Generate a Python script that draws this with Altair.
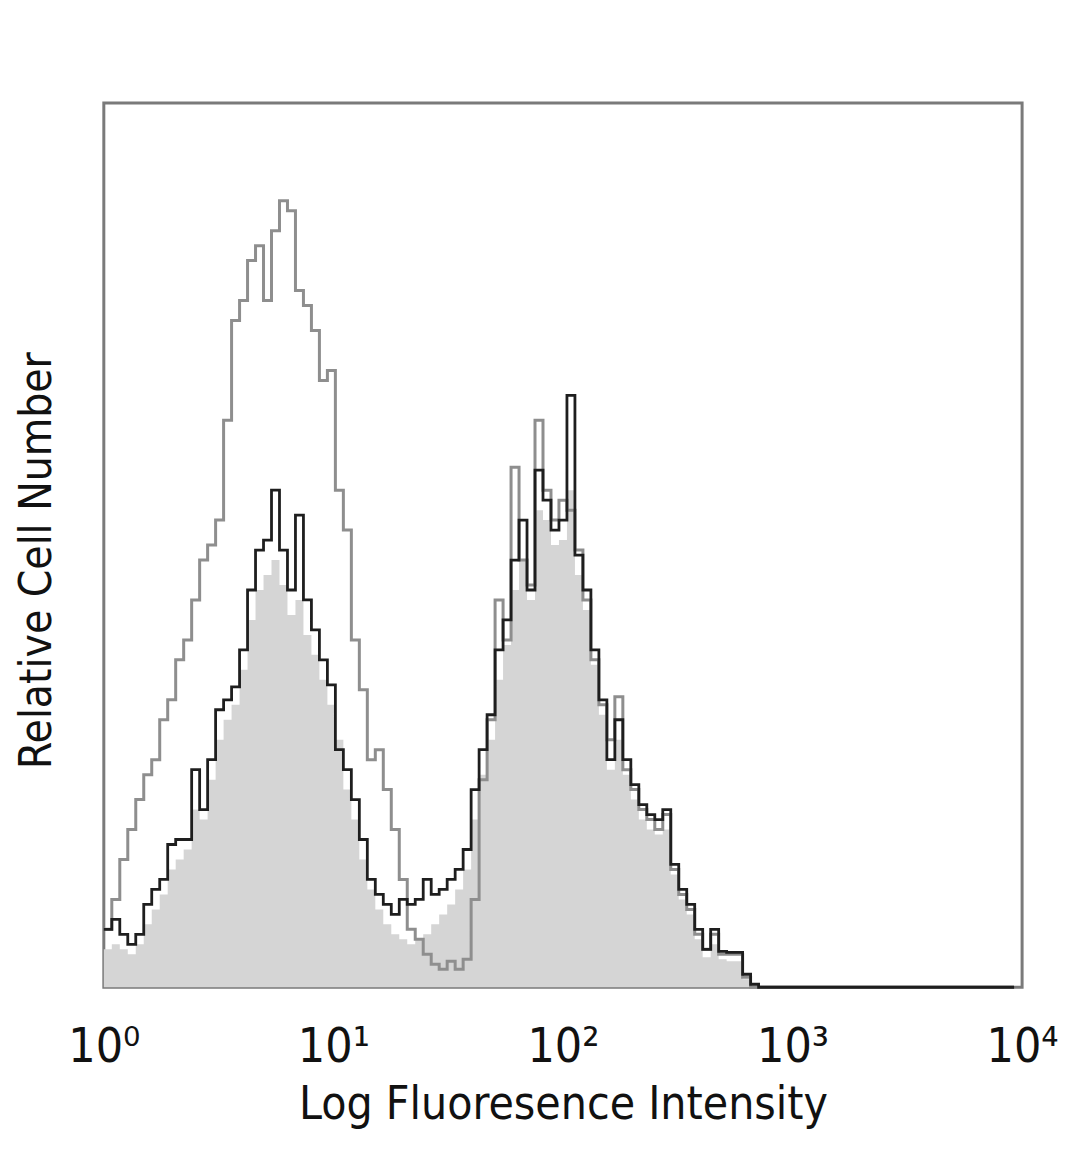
import altair as alt
import numpy as np
import pandas as pd

# Histogram bins: log10 width of each channel (8/230 decade), first bin starts at 10^0
n_bins = 115
bin_log_width = 8 / 230
log_edges = np.arange(n_bins) * bin_log_width
x_edges = 10 ** log_edges

# Relative cell number per bin
black_line = [58, 68, 53, 43, 53, 83, 98, 108, 143, 148, 148, 218, 178, 228, 278, 288, 301, 338,
              398, 438, 448, 498, 438, 398, 473, 388, 358, 328, 303, 238, 218, 188, 148, 108, 93,
              83, 73, 88, 83, 88, 108, 93, 98, 108, 118, 138, 198, 238, 273, 338, 368, 428, 468,
              398, 518, 488, 458, 468, 593, 433, 398, 338, 288, 228, 268, 228, 203, 183, 173, 168,
              178, 123, 98, 83, 58, 38, 58, 36, 35, 35, 13, 3]
gray_line = [58, 88, 128, 158, 188, 213, 228, 268, 288, 328, 348, 388, 428, 443, 468, 568, 668,
             688, 728, 743, 688, 758, 788, 778, 698, 683, 658, 608, 618, 498, 458, 348, 298, 228,
             238, 198, 158, 108, 58, 48, 33, 23, 18, 26, 18, 28, 88, 208, 268, 388, 348, 521, 428,
             403, 568, 498, 468, 488, 478, 438, 388, 328, 283, 248, 291, 218, 198, 178, 168, 158,
             173, 118, 93, 78, 53, 38, 53, 33, 33, 33, 10, 0]
filled = [38, 43, 38, 33, 43, 63, 78, 93, 118, 128, 138, 178, 168, 208, 248, 268, 283, 318, 368,
          398, 413, 428, 403, 373, 388, 353, 333, 308, 283, 248, 198, 168, 128, 98, 78, 63, 53,
          48, 43, 48, 53, 63, 73, 83, 98, 118, 168, 213, 248, 308, 343, 398, 428, 388, 478, 468,
          443, 448, 498, 413, 378, 323, 273, 218, 248, 213, 188, 168, 158, 153, 158, 113, 88, 73,
          48, 30, 43, 28, 26, 26, 8, 0]

tick_values = [1, 10, 100, 1000, 10000]
tick_labels = ["10⁰", "10¹", "10²", "10³", "10⁴"]


def pad(vals):
    return list(vals) + [0] * (n_bins - len(vals))


df = pd.DataFrame({
    "x": x_edges,
    "black": pad(black_line),
    "gray": pad(gray_line),
    "fill": pad(filled),
})

FONT = "DejaVu Sans Condensed, DejaVu Sans, sans-serif"

label_expr = " : ".join(
    f"datum.value == {v} ? '{t}'" for v, t in zip(tick_values[:-1], tick_labels[:-1])
) + f" : '{tick_labels[-1]}'"

x_enc = alt.X(
    "x:Q",
    scale=alt.Scale(type="log", domain=[1, 10000], nice=False),
    axis=alt.Axis(
        title="Log Fluoresence Intensity",
        values=tick_values,
        labelExpr=label_expr,
        labelFont=FONT,
        labelFontSize=48,
        labelColor="#111",
        labelPadding=36,
        labelFlush=False,
        titleFont=FONT,
        titleFontSize=46,
        titleFontWeight="normal",
        titleColor="#111",
        titlePadding=12,
        domain=False,
        ticks=False,
        grid=False,
    ),
)


def y_enc(field):
    return alt.Y(
        f"{field}:Q",
        scale=alt.Scale(domain=[0, 886], nice=False, zero=True),
        axis=alt.Axis(
            title="Relative Cell Number",
            labels=False,
            domain=False,
            ticks=False,
            grid=False,
            titleFont=FONT,
            titleFontSize=44,
            titleFontWeight="normal",
            titleColor="#111",
            titlePadding=44,
            titleY=458,
        ),
    )


base = alt.Chart(df)

fill_layer = base.mark_area(interpolate="step-after", color="#d5d5d5", opacity=1).encode(
    x=x_enc, y=y_enc("fill")
)
gray_layer = base.mark_line(interpolate="step-after", color="#8e8e8e", strokeWidth=3).encode(
    x=x_enc, y=y_enc("gray")
)
black_layer = base.mark_line(interpolate="step-after", color="#1e1e1e", strokeWidth=2.8).encode(
    x=x_enc, y=y_enc("black")
)

chart = (
    alt.layer(fill_layer, gray_layer, black_layer)
    .properties(
        width=920,
        height=886,
        autosize=alt.AutoSizeParams(type="none"),
        padding={"left": 96, "top": 94, "right": 50, "bottom": 170},
    )
    .configure_view(stroke="#7a7a7a", strokeWidth=3)
)

chart.save("out.html", embed_options={"renderer": "svg", "actions": False})
